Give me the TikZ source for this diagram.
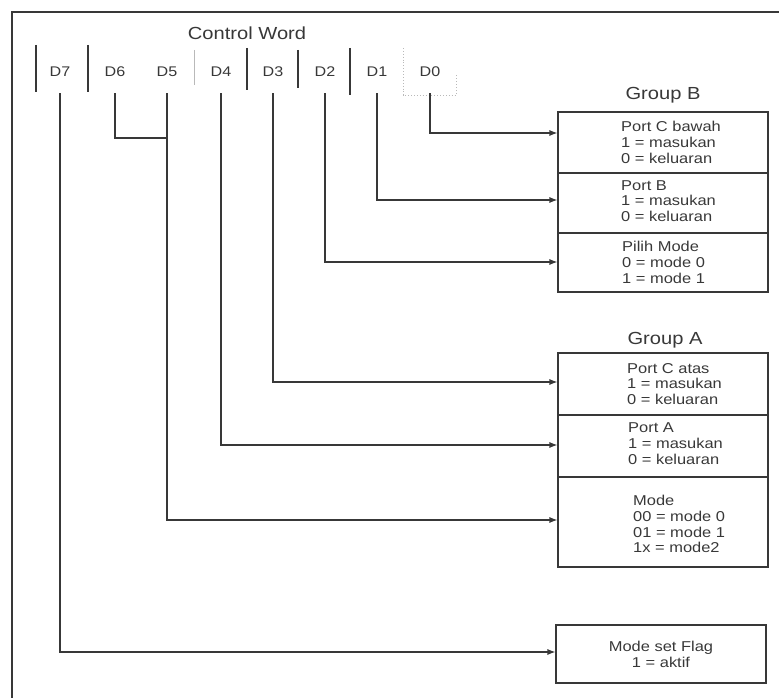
\documentclass[tikz,border=0pt]{standalone}
\usepackage{fontspec}
\setmainfont{Liberation Sans}[FakeStretch=1.15]
\usetikzlibrary{arrows.meta}
\definecolor{ink}{gray}{0.22}
\tikzset{
  ln/.style={draw=ink, line width=1.1pt},
  arr/.style={ln, -{Latex[length=8pt,width=6pt]}},
  sep/.style={draw=ink, line width=1.1pt},
  faint/.style={draw=ink!35, line width=0.9pt},
  bit/.style={inner sep=0pt, minimum height=42pt, text=ink, font=\fontsize{14}{16}\selectfont},
  title/.style={text=ink, font=\fontsize{17.5}{19}\selectfont},
  box/.style={ln, minimum width=210pt, inner sep=0pt},
  txt/.style={anchor=west, align=left, inner sep=0pt, text=ink, font=\fontsize{14.3}{15.8}\selectfont},
}
\begin{document}
\begin{tikzpicture}[x=1pt,y=-1pt]
\useasboundingbox (0,0) rectangle (779,698);
% outer frame (only top and left edges visible)
\draw[ink, line width=1.5pt] (12,698) -- (12,12) -- (779,12);

% title
\node[title] (cw) at (247,33) {Control Word};

% bit labels
\node[bit] (b7) at (60,72) {D7};
\node[bit] (b6) at (115,72) {D6};
\node[bit] (b5) at (167,72) {D5};
\node[bit] (b4) at (221,72) {D4};
\node[bit] (b3) at (273,72) {D3};
\node[bit] (b2) at (325,72) {D2};
\node[bit] (b1) at (377,72) {D1};
\node[bit] (b0) at (430,72) {D0};

% separators
\draw[sep] (36,45) -- (36,92);
\draw[sep] (88,45) -- (88,92);
\draw[faint] (194,50) -- (194,85);
\draw[sep] (247,48) -- (247,90);
\draw[sep] (298,50) -- (298,88);
\draw[sep] (350,48) -- (350,95);
\draw[faint, dotted] (403,48) -- (403,95) -- (456,95) -- (456,75);

% Group B
\node[title] (gb) at (663,95) {Group B};
\node[box, minimum height=61pt] (cb) at (663,142.5) {};
\node[box, minimum height=60pt] (pb) at (663,203) {};
\node[box, minimum height=59pt] (pm) at (663,262.5) {};
\node[txt] (tcb) at (621,142.5) {Port C bawah\\1 = masukan\\0 = keluaran};
\node[txt] (tpb) at (621,201) {Port B\\1 = masukan\\0 = keluaran};
\node[txt] (tpm) at (622,262.5) {Pilih Mode\\0 = mode 0\\1 = mode 1};

% Group A
\node[title] (ga) at (665,340) {Group A};
\node[box, minimum height=62pt] (ca) at (663,384) {};
\node[box, minimum height=62pt] (pa) at (663,446) {};
\node[box, minimum height=90pt] (md) at (663,522) {};
\node[txt] (tca) at (627,384) {Port C atas\\1 = masukan\\0 = keluaran};
\node[txt] (tpa) at (628,443.5) {Port A\\1 = masukan\\0 = keluaran};
\node[txt] (tmd) at (633,524) {Mode\\00 = mode 0\\01 = mode 1\\1x = mode2};

% Mode set flag
\node[box, minimum height=58pt, align=center, text=ink, font=\fontsize{14.3}{15.8}\selectfont] (fl) at (661,654) {Mode set Flag\\1 = aktif};

% connectors
\draw[arr] (b0.south) |- (cb.west |- 0,133);
\draw[arr] (b1.south) |- (pb.west |- 0,200);
\draw[arr] (b2.south) |- (pm.west |- 0,262);
\draw[arr] (b3.south) |- (ca.west |- 0,382);
\draw[arr] (b4.south) |- (pa.west |- 0,445);
\draw[arr] (b5.south) |- (md.west |- 0,520);
\draw[ln] (b6.south) |- (b5.south |- 0,138);
\draw[arr] (b7.south) |- (fl.west |- 0,652);
\end{tikzpicture}
\end{document}
